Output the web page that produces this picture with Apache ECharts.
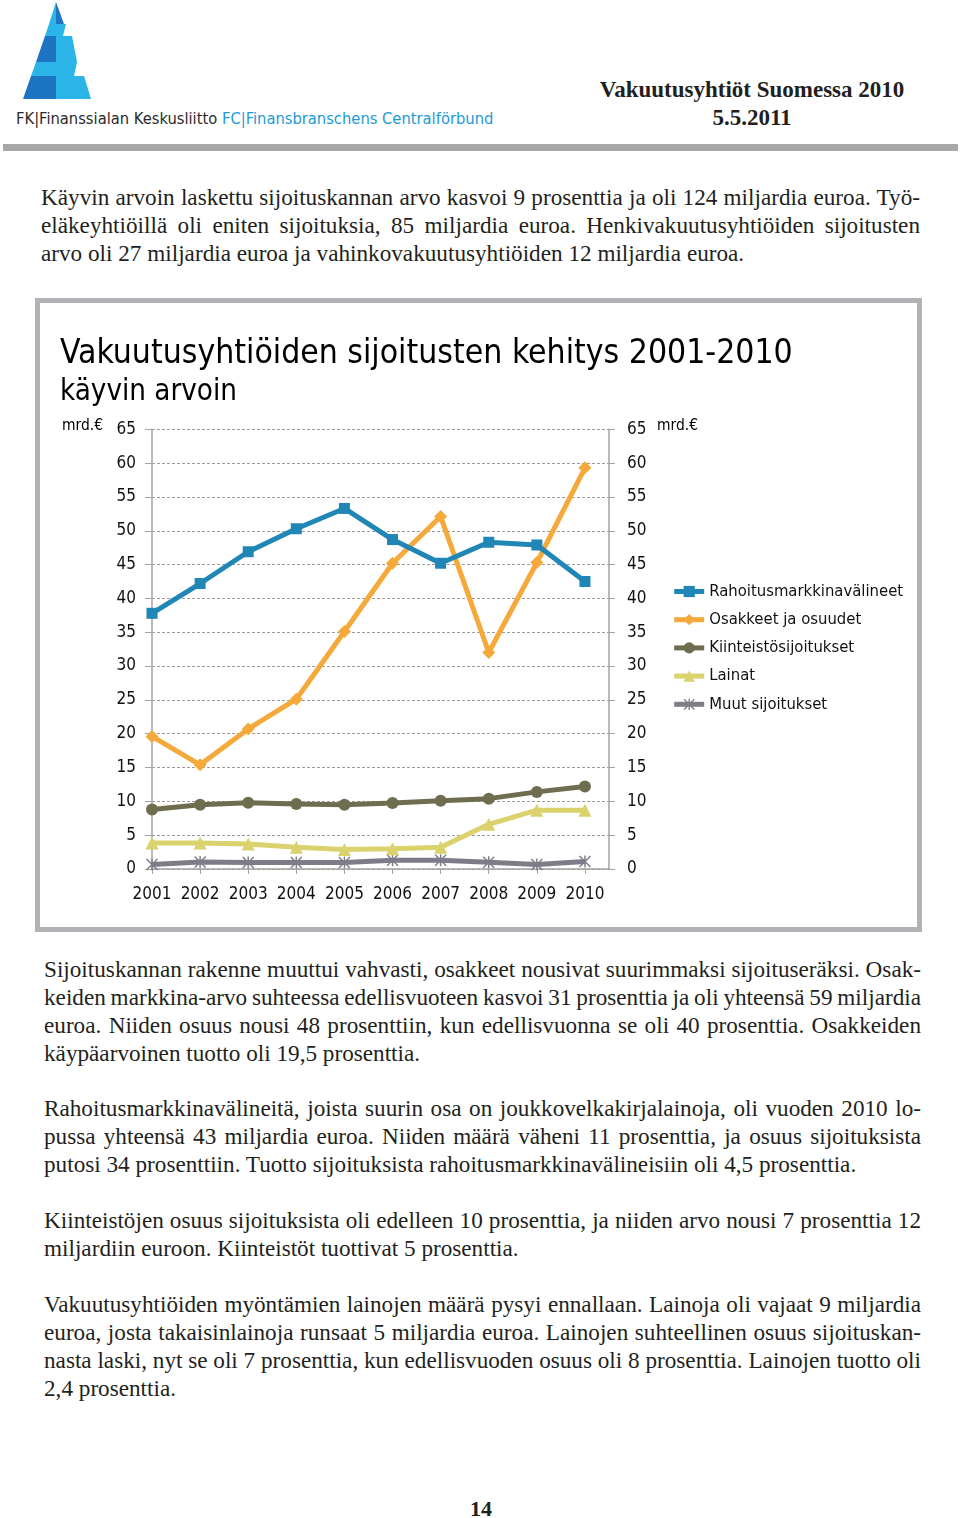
<!DOCTYPE html>
<html><head><meta charset="utf-8">
<script src="https://cdn.jsdelivr.net/npm/echarts@6/dist/echarts.min.js"></script>
<style>
html,body{margin:0;padding:0;background:#fff;}
body{width:960px;height:1518px;overflow:hidden;position:relative;}
.abs{position:absolute;}
.serif{font-family:'Liberation Serif','Times New Roman',serif;color:#231f20;}
.ln{position:absolute;white-space:nowrap;font-size:23.2px;line-height:28px;height:28px;}
#box{position:absolute;left:35px;top:298px;width:887px;height:634px;border:5px solid #b3b3b7;box-sizing:border-box;background:#fff;}
#chart{position:absolute;left:40px;top:303px;width:877px;height:624px;}
</style></head>
<body>
<svg class="abs" style="left:0;top:0" width="120" height="110" viewBox="0 0 120 110">
  <polygon points="56,2 49,24 56,24" fill="#2bb4e8"/>
  <polygon points="56,2 56,24 64,24" fill="#1d74c2"/>
  <polygon points="49,24 45,36 63,36 66,24" fill="#2bb4e8"/>
  <polygon points="45,36 36,62 56,62 56,36" fill="#1d74c2"/>
  <polygon points="56,36 56,62 77,62 72,36" fill="#2bb4e8"/>
  <polygon points="36,62 31,76 74,76 77,62" fill="#2bb4e8"/>
  <polygon points="31,76 23,99 56,99 56,76" fill="#1d74c2"/>
  <polygon points="56,76 56,99 91,99 84,76" fill="#2bb4e8"/>
</svg>
<div class="abs" id="fk" style="left:16px;top:108px;line-height:22px;font-family:'Liberation Sans Narrow','DejaVu Sans Condensed','Liberation Sans',Arial,sans-serif;white-space:nowrap;"><span style="color:#2b2b2b">FK|Finanssialan Keskusliitto </span><span style="color:#1e9ad6">FC|Finansbranschens Centralförbund</span></div>
<div class="abs serif" style="left:552px;width:400px;text-align:center;top:76px;font-size:23px;font-weight:bold;line-height:28px;">Vakuutusyhtiöt Suomessa 2010</div>
<div class="abs serif" style="left:552px;width:400px;text-align:center;top:104px;font-size:23px;font-weight:bold;line-height:28px;">5.5.2011</div>
<div class="abs" style="left:3px;top:144px;width:955px;height:7px;background:#a5a7a9;"></div>
<div id="paras"></div>
<div id="box"></div>
<div id="chart"></div>
<div class="abs serif" style="left:431px;width:100px;text-align:center;top:1496px;font-size:22px;font-weight:bold;line-height:26px;">14</div>
<script>
// ---------- DATA ----------
const years = [2001, 2002, 2003, 2004, 2005, 2006, 2007, 2008, 2009, 2010];
const rahoitus = [37.8, 42.2, 46.9, 50.3, 53.3, 48.7, 45.2, 48.3, 47.9, 42.5];
const osakkeet = [19.6, 15.4, 20.7, 25.1, 35.1, 45.2, 52.1, 32.0, 45.3, 59.3];
const kiinteisto = [8.8, 9.5, 9.8, 9.6, 9.5, 9.75, 10.1, 10.4, 11.4, 12.2];
const lainat = [3.85, 3.85, 3.7, 3.2, 2.9, 3.0, 3.2, 6.6, 8.7, 8.7];
const muut = [0.65, 1.05, 0.95, 0.95, 0.95, 1.3, 1.3, 1.0, 0.65, 1.1];
const seriesNames = ['Rahoitusmarkkinavälineet', 'Osakkeet ja osuudet', 'Kiinteistösijoitukset', 'Lainat', 'Muut sijoitukset'];
const yMin = 0, yMax = 65, yStep = 5;
const chartTitle = 'Vakuutusyhtiöiden sijoitusten kehitys 2001-2010';
const chartSubtitle = 'käyvin arvoin';
const unitLabel = 'mrd.€';

const para1 = [
 'Käyvin arvoin laskettu sijoituskannan arvo kasvoi 9 prosenttia ja oli 124 miljardia euroa. Työ-',
 'eläkeyhtiöillä oli eniten sijoituksia, 85 miljardia euroa. Henkivakuutusyhtiöiden sijoitusten',
 'arvo oli 27 miljardia euroa ja vahinkovakuutusyhtiöiden 12 miljardia euroa.'];
const para2 = [
 'Sijoituskannan rakenne muuttui vahvasti, osakkeet nousivat suurimmaksi sijoituseräksi. Osak-',
 'keiden markkina-arvo suhteessa edellisvuoteen kasvoi 31 prosenttia ja oli yhteensä 59 miljardia',
 'euroa. Niiden osuus nousi 48 prosenttiin, kun edellisvuonna se oli 40 prosenttia. Osakkeiden',
 'käypäarvoinen tuotto oli 19,5 prosenttia.'];
const para3 = [
 'Rahoitusmarkkinavälineitä, joista suurin osa on joukkovelkakirjalainoja, oli vuoden 2010 lo-',
 'pussa yhteensä 43 miljardia euroa. Niiden määrä väheni 11 prosenttia, ja osuus sijoituksista',
 'putosi 34 prosenttiin. Tuotto sijoituksista rahoitusmarkkinavälineisiin oli 4,5 prosenttia.'];
const para4 = [
 'Kiinteistöjen osuus sijoituksista oli edelleen 10 prosenttia, ja niiden arvo nousi 7 prosenttia 12',
 'miljardiin euroon. Kiinteistöt tuottivat 5 prosenttia.'];
const para5 = [
 'Vakuutusyhtiöiden myöntämien lainojen määrä pysyi ennallaan. Lainoja oli vajaat 9 miljardia',
 'euroa, josta takaisinlainoja runsaat 5 miljardia euroa. Lainojen suhteellinen osuus sijoituskan-',
 'nasta laski, nyt se oli 7 prosenttia, kun edellisvuoden osuus oli 8 prosenttia. Lainojen tuotto oli',
 '2,4 prosenttia.'];

// ---------- TEXT LAYOUT ----------
const paraHost = document.getElementById('paras');
function addPara(lines, left, right, firstCy, lastJust) {
  lines.forEach((t, i) => {
    const d = document.createElement('div');
    d.className = 'ln serif';
    d.style.left = left + 'px';
    d.style.top = (firstCy + i * 28 - 14) + 'px';
    const s = document.createElement('span');
    s.textContent = t;
    d.appendChild(s);
    paraHost.appendChild(d);
    const isLast = i === lines.length - 1;
    if (!isLast || lastJust) {
      const w = s.getBoundingClientRect().width;
      const n = (t.match(/ /g) || []).length;
      if (n) s.style.wordSpacing = ((right - left - w) / n) + 'px';
    }
  });
}
addPara(para1, 41, 920, 197, false);
addPara(para2, 44, 921, 969, false);
addPara(para3, 44, 921, 1108, false);
addPara(para4, 44, 921, 1220, false);
addPara(para5, 44, 921, 1304, false);

// fit FK line
(function(){
  const fk = document.getElementById('fk');
  fk.style.fontSize = '100px';
  const w = fk.getBoundingClientRect().width;
  fk.style.fontSize = (100 * 478 / w) + 'px';
})();

// ---------- CHART ----------
const F = "'DejaVu Sans Condensed', 'DejaVu Sans', sans-serif";
const mctx = document.createElement('canvas').getContext('2d');
function fit(text, target, weight) {
  mctx.font = (weight || 'normal') + ' 100px ' + F;
  return 100 * target / mctx.measureText(text).width;
}
const fsTick = fit('2001', 39);
const fsLegend = fit('Rahoitusmarkkinavälineet', 194);
const fsTitle = fit(chartTitle, 733);
const fsSub = fit(chartSubtitle, 177);
const fsUnit = fit(unitLabel, 41);

const colors = ['#1f86b6', '#f5a93b', '#6e6d50', '#dad26c', '#7d7d8a'];
const asterisk = 'path://M4.4,0 L5.6,0 L5.6,10 L4.4,10 Z M0,0.85 L0.85,0 L10,9.15 L9.15,10 Z M9.15,0 L10,0.85 L0.85,10 L0,9.15 Z';
const symbols = ['rect', 'diamond', 'circle', 'triangle', asterisk];
const symSizes = [11, 13, 12, 13, 12];
const allData = [rahoitus, osakkeet, kiinteisto, lainat, muut];

const axisGray = '#a3a3a3';
const chart = echarts.init(document.getElementById('chart'), null, {renderer: 'canvas'});
const L = 112, R = 308, T = 126.3, B = 58;

chart.setOption({
  animation: false,
  backgroundColor: 'transparent',
  textStyle: {fontFamily: F},
  title: [
    {text: chartTitle, left: 20, top: 51 - fsTitle * 0.6, padding: 0,
     textStyle: {fontSize: fsTitle, fontWeight: 'normal', color: '#000', fontFamily: F, lineHeight: fsTitle * 1.2}},
    {text: chartSubtitle, left: 20, top: 89 - fsSub * 0.6, padding: 0,
     textStyle: {fontSize: fsSub, fontWeight: 'normal', color: '#000', fontFamily: F, lineHeight: fsSub * 1.2}}
  ],
  graphic: [
    {type: 'text', left: 22, top: 125 - fsUnit * 0.6, style: {text: unitLabel, fontSize: fsUnit, fill: '#000', fontFamily: F}},
    {type: 'text', left: 617, top: 125 - fsUnit * 0.6, style: {text: unitLabel, fontSize: fsUnit, fill: '#000', fontFamily: F}}
  ],
  legend: {
    orient: 'vertical', left: 631.7, top: 288 - 8, padding: 0,
    itemWidth: 30, itemHeight: 14, itemGap: 11.2,
    lineStyle: {width: 5},
    textStyle: {fontSize: fsLegend, color: '#111', fontFamily: F},
    data: seriesNames
  },
  grid: {left: L, right: R, top: T, bottom: B, containLabel: false},
  xAxis: {
    type: 'value', min: years[0], max: years[years.length - 1] + 0.5, interval: 1,
    axisLine: {show: true, onZero: false, lineStyle: {color: axisGray, width: 1.5}},
    axisTick: {show: true, customValues: years, length: 5, lineStyle: {color: axisGray, width: 1}},
    axisLabel: {customValues: years, fontSize: fsTick, color: '#111', margin: 17, fontFamily: F,
      formatter: v => Number.isInteger(v) ? String(v) : ''},
    splitLine: {show: false}
  },
  yAxis: [
    {type: 'value', min: yMin, max: yMax, interval: yStep, position: 'left',
     axisLine: {show: true, lineStyle: {color: axisGray, width: 1.5}},
     axisTick: {show: true, length: 7, lineStyle: {color: axisGray, width: 1}},
     axisLabel: {fontSize: fsTick, color: '#111', margin: 16, fontFamily: F},
     splitLine: {show: true, lineStyle: {color: '#9b9b9b', type: [3, 2], width: 1}}},
    {type: 'value', min: yMin, max: yMax, interval: yStep, position: 'right',
     axisLine: {show: true, lineStyle: {color: axisGray, width: 1.5}},
     axisTick: {show: true, length: 6, lineStyle: {color: axisGray, width: 1}},
     axisLabel: {fontSize: fsTick, color: '#111', margin: 18, fontFamily: F},
     splitLine: {show: false}}
  ],
  series: seriesNames.map((name, k) => ({
    name, type: 'line', xAxisIndex: 0, yAxisIndex: 0,
    data: years.map((y, i) => [y, allData[k][i]]),
    symbol: symbols[k], symbolSize: symSizes[k], showSymbol: true,
    lineStyle: {width: 5, color: colors[k]},
    itemStyle: {color: colors[k]},
    z: 10 - k
  }))
});
</script>
</body></html>
